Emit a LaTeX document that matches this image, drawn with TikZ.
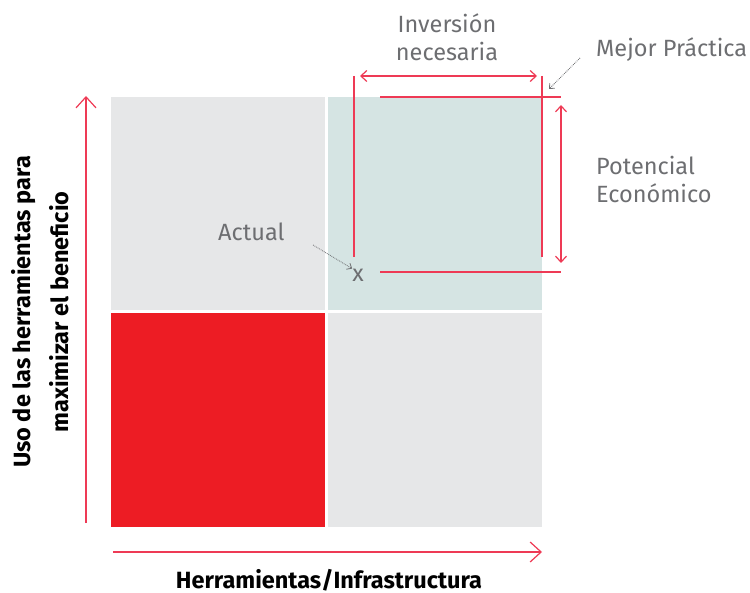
\documentclass[tikz,border=0pt]{standalone}
\usepackage{fontspec}
\setmainfont{Fira Sans}
\usetikzlibrary{arrows.meta}
\usetikzlibrary{positioning}

\definecolor{boxgray}{HTML}{E6E7E8}
\definecolor{boxteal}{HTML}{D5E4E3}
\definecolor{boxred}{HTML}{ED1C24}
\definecolor{linered}{HTML}{EE3A55}
\definecolor{txtgray}{HTML}{6D6E71}

\tikzset{
  redline/.style={draw=linered, line width=1.2pt},
  redboth/.style={redline, {Straight Barb[length=6pt, width=11pt]}-{Straight Barb[length=6pt, width=11pt]}},
  axisarrow/.style={redline, -{Straight Barb[length=11pt, width=20pt]}},
  graytext/.style={text=txtgray, font=\fontsize{23.5}{28}\selectfont, align=left, inner sep=0pt},
  boldtext/.style={font=\fontsize{23.5}{38}\selectfont\bfseries, align=center, inner sep=0pt},
  pointer/.style={draw=txtgray, densely dotted, line width=0.8pt, -{Straight Barb[length=4pt, width=7pt]}}
}

\begin{document}
\begin{tikzpicture}[x=1pt, y=-1pt]
\useasboundingbox (0,0) rectangle (750,593);

%squares
\fill[boxgray] (111,97) rectangle (325,310);
\fill[boxteal] (328,97) rectangle (542,310);
\fill[boxred] (111,313) rectangle (325,527);
\fill[boxgray] (328,313) rectangle (542,527);

%axes
\draw[axisarrow] (86,523) -- (86,96);
\draw[axisarrow] (113,552) -- (542,552);

%inversion
\draw[redline] (354,76) -- (354,257);
\draw[redline] (542,76) -- (542,257);
\draw[redboth] (360,76) -- (537,76);

%potencial
\draw[redline] (380,97) -- (561,97);
\draw[redline] (380,272) -- (561,272);
\draw[redboth] (561,105) -- (561,263);

%labels
\node[graytext, align=center] (inversion) at (447,37) {Inversión\\necesaria};
\node[graytext, anchor=west] (mejor) at (596,50) {Mejor Práctica};
\node[graytext, anchor=west] (potencial) at (596,179) {Potencial\\Económico};
\node[graytext, anchor=west] (actual) at (218,232) {Actual};
\node[graytext] (xmark) at (358,275) {x};

\coordinate (mejortip) at (549,89);
\draw[pointer] (580,58) -- (mejortip);
\draw[pointer] (313,245) -- (xmark.north west);

\node[boldtext, anchor=base] (xlabel) at (329,588) {Herramientas/Infrastructura};
\node[boldtext, rotate=90] (ylabel) at (40,312) {Uso de las herramientas para\\maximizar el beneficio};
\end{tikzpicture}
\end{document}
